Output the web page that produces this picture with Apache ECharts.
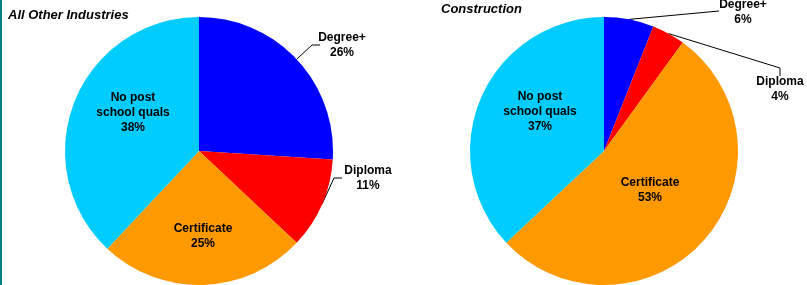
<!DOCTYPE html>
<html>
<head>
<meta charset="utf-8">
<script src="https://cdn.jsdelivr.net/npm/echarts@6/dist/echarts.min.js"></script>
<style>
  html, body { margin: 0; padding: 0; background: #fff; }
  #main { width: 807px; height: 285px; }
</style>
</head>
<body>
<div id="main"></div>
<script>
  // categories and shares (%)
  var categories = ['Degree+', 'Diploma', 'Certificate', 'No post\nschool quals'];
  var otherIndustries = [26, 11, 25, 38];
  var construction = [6, 4, 53, 37];
  var titles = ['All Other Industries', 'Construction'];
  var colors = ['#0000ff', '#ff0000', '#ff9900', '#00ccff'];

  // where each label sits (label centre) and the elbow of its leader line
  var labelSpots = [
    [ {x: 342, y: 45, line: [[312, 45], [320, 45]]},
      {x: 368, y: 178, line: [[334, 178], [342, 178]]},
      {x: 203, y: 236},
      {x: 133, y: 113} ],
    [ {x: 743, y: 12, line: [[719, 11]]},
      {x: 780, y: 89, line: [[780, 68], [780, 76]]},
      {x: 650, y: 190},
      {x: 540, y: 112} ]
  ];

  var fontFam = 'Liberation Sans, Arial, sans-serif';

  function makeData(values) {
    var out = [];
    for (var i = 0; i < values.length; i++) {
      var outside = i < 2;
      out.push({
        name: categories[i],
        value: values[i],
        itemStyle: { color: colors[i] },
        label: { position: outside ? 'outside' : 'inside' },
        labelLine: { show: outside }
      });
    }
    return out;
  }

  function makeSeries(idx, values, cx) {
    return {
      type: 'pie',
      center: [cx, 151],
      radius: 134,
      startAngle: 90,
      clockwise: true,
      silent: true,
      animation: false,
      data: makeData(values),
      label: {
        formatter: '{b}\n{c}%',
        fontFamily: fontFam,
        fontSize: 12,
        fontWeight: 'bold',
        color: '#000',
        lineHeight: 15,
        align: 'center'
      },
      labelLine: {
        lineStyle: { color: '#000', width: 1 },
        length: 15,
        length2: 8
      },
      labelLayout: function (params) {
        var spot = labelSpots[idx][params.dataIndex];
        var res = { x: spot.x, y: spot.y, align: 'center', verticalAlign: 'middle' };
        if (spot.line && params.labelLinePoints) {
          res.labelLinePoints = [params.labelLinePoints[0]].concat(spot.line);
        }
        return res;
      }
    };
  }

  var myChart = echarts.init(document.getElementById('main'));
  var titleStyle = { fontFamily: fontFam, fontSize: 13, fontWeight: 'bold', fontStyle: 'italic', color: '#000' };
  var option = {
    backgroundColor: '#fff',
    title: [
      { text: titles[0], left: 8, top: 9, padding: 0, textStyle: titleStyle },
      { text: titles[1], left: 441, top: 3, padding: 0, textStyle: titleStyle }
    ],
    graphic: [
      { type: 'rect', left: 0, top: 0, shape: { width: 2, height: 285 }, style: { fill: '#008080' } }
    ],
    series: [
      makeSeries(0, otherIndustries, 199),
      makeSeries(1, construction, 604)
    ]
  };
  myChart.setOption(option);
</script>
</body>
</html>
